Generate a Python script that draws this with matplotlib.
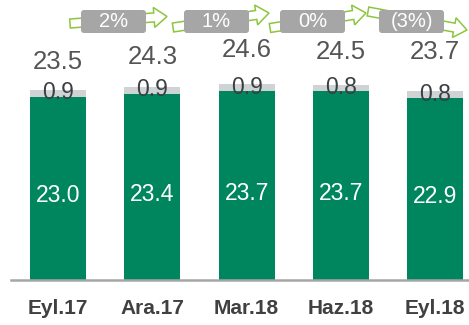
import matplotlib
matplotlib.use('Agg')
from matplotlib import pyplot as plt
from matplotlib.patches import FancyArrow, FancyBboxPatch

periods = ['Eyl.17', 'Ara.17', 'Mar.18', 'Haz.18', 'Eyl.18']
core = [23.0, 23.4, 23.7, 23.7, 22.9]
other = [0.9, 0.9, 0.9, 0.8, 0.8]
totals = [23.5, 24.3, 24.6, 24.5, 23.7]
growth = ['2%', '1%', '0%', '(3%)']

GREEN = '#00865f'
LIGHT = '#d0d3d4'
ARROW = '#8cc63f'

plt.rcParams['font.family'] = ['Liberation Sans', 'DejaVu Sans']

W, H = 469, 325
fig = plt.figure(figsize=(W / 100, H / 100), dpi=100)

ax = fig.add_axes([11 / W, 45 / H, 458 / W, 280 / H])
x = list(range(len(periods)))
ax.bar(x, core, width=0.594, color=GREEN, zorder=2)
ax.bar(x, other, width=0.594, bottom=core, color=LIGHT, zorder=2)

# manual vertical nudges for the total labels above each stack
lift = [3.5, 3.7, 4.3, 4.1, 4.9]
for i in x:
    ax.text(i, core[i] * 0.46, f'{core[i]:.1f}', ha='center', va='center',
            color='white', fontsize=16.5)
    ax.text(i, core[i] + other[i] / 2 + 0.05, f'{other[i]:.1f}', ha='center',
            va='center', color='#3a3f44', fontsize=16.5, zorder=3)
    ax.text(i, core[i] + other[i] + lift[i], f'{totals[i]:.1f}', ha='center',
            va='center', color='#555555', fontsize=18.5)

ax.set_xlim(-0.5, 4.36)
ax.set_ylim(0, 280 / 7.96)
ax.set_xticks(x)
ax.set_xticklabels(periods, fontsize=15, fontweight='bold', color='#404040')
ax.tick_params(axis='x', length=0, pad=14)
ax.set_yticks([])
for side in ['top', 'right', 'left']:
    ax.spines[side].set_visible(False)
ax.spines['bottom'].set_color('#a6a6a6')
ax.spines['bottom'].set_linewidth(1.8)

# overlay in pixel units for the growth call-outs
ov = fig.add_axes([0, 0, 1, 1], zorder=5)
ov.set_xlim(0, W)
ov.set_ylim(H, 0)
ov.axis('off')

arrows = [((70, 23.5), (167, 16.5)), ((173, 27.5), (269, 13)),
          ((270, 28), (366, 13)), ((368, 11.5), (467, 30))]
boxes = [81, 184, 280, 379]
for (p0, p1), bx, lab in zip(arrows, boxes, growth):
    ov.add_patch(FancyArrow(p0[0], p0[1], p1[0] - p0[0], p1[1] - p0[1],
                            width=9, head_width=20, head_length=13,
                            length_includes_head=True, fill=True, fc='white',
                            ec=ARROW, lw=1.1))
    ov.add_patch(FancyBboxPatch((bx, 10), 65, 23,
                                boxstyle='round,pad=0,rounding_size=3',
                                fc='#a6a6a6', ec='none'))
    ov.text(bx + 32.5, 21.5, lab, ha='center', va='center', color='white',
            fontsize=14.5)

fig.savefig('out.png', dpi=100)
